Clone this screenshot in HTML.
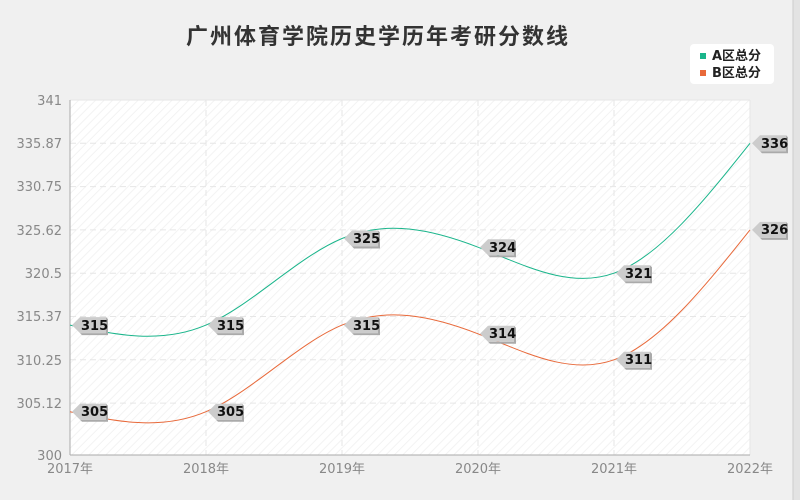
<!DOCTYPE html>
<html><head><meta charset="utf-8"><style>
body{margin:0;background:#f0f0f0;}
svg{display:block;font-family:"DejaVu Sans","Noto Sans CJK SC",sans-serif;}
</style></head><body>
<svg width="800" height="500" xmlns="http://www.w3.org/2000/svg">
<defs>
<pattern id="h" width="6" height="6" patternUnits="userSpaceOnUse" patternTransform="rotate(45)">
<rect width="6" height="6" fill="#fff"/><line x1="0" y1="0" x2="0" y2="6" stroke="#f3f3f3" stroke-width="2"/>
</pattern>
<g id="tag"><path d="M34,-8 L36,-6 L36,10 L10,10 L8,8 L34,8Z" fill="#aaa"/><path d="M0,0 L8,-8 L34,-8 L34,8 L8,8 Z" fill="#cccccc"/></g>
</defs>
<rect x="0" y="0" width="800" height="500" fill="#f0f0f0"/>
<rect x="793" y="0" width="7" height="500" fill="#e3e3e3"/>
<line x1="793" y1="0" x2="793" y2="500" stroke="#ccc"/>
<text x="378" y="44" text-anchor="middle" font-size="22" letter-spacing="2" font-weight="bold" fill="#333">广州体育学院历史学历年考研分数线</text>
<rect x="690" y="44" width="84" height="40" rx="4" fill="#fff"/>
<rect x="700" y="53" width="6" height="6" fill="#1ab58b"/>
<text x="712" y="60" font-size="13" font-weight="bold" fill="#222">A区总分</text>
<rect x="700" y="70" width="6" height="6" fill="#e8693a"/>
<text x="712" y="77" font-size="13" font-weight="bold" fill="#222">B区总分</text>
<rect x="70" y="100" width="680" height="355" fill="url(#h)"/>
<g stroke="#e6e6e6" stroke-dasharray="6,4" stroke-width="1">
<line x1="70" y1="143.3" x2="750" y2="143.3"/><line x1="70" y1="186.6" x2="750" y2="186.6"/>
<line x1="70" y1="229.9" x2="750" y2="229.9"/><line x1="70" y1="273.2" x2="750" y2="273.2"/>
<line x1="70" y1="316.5" x2="750" y2="316.5"/><line x1="70" y1="359.8" x2="750" y2="359.8"/>
<line x1="70" y1="403.1" x2="750" y2="403.1"/>
<line x1="206" y1="100" x2="206" y2="455"/><line x1="342" y1="100" x2="342" y2="455"/>
<line x1="478" y1="100" x2="478" y2="455"/><line x1="614" y1="100" x2="614" y2="455"/>
</g>
<line x1="70" y1="100" x2="750" y2="100" stroke="#e6e6e6"/>
<line x1="750" y1="100" x2="750" y2="455" stroke="#e6e6e6"/>
<line x1="70" y1="100" x2="70" y2="455" stroke="#aaa"/>
<line x1="70" y1="455" x2="750" y2="455" stroke="#aaa"/>
<g font-size="13" fill="#888" text-anchor="end">
<text x="62" y="105">341</text><text x="62" y="148">335.87</text><text x="62" y="191">330.75</text>
<text x="62" y="235">325.62</text><text x="62" y="278">320.5</text><text x="62" y="321">315.37</text>
<text x="62" y="365">310.25</text><text x="62" y="408">305.12</text><text x="62" y="460">300</text>
</g>
<g font-size="13" fill="#888" text-anchor="middle">
<text x="70" y="473">2017年</text><text x="206" y="473">2018年</text><text x="342" y="473">2019年</text>
<text x="478" y="473">2020年</text><text x="614" y="473">2021年</text><text x="750" y="473">2022年</text>
</g>
<path d="M70,325.1 C115.33,334.75 160.67,344.41 206,325.1 C251.33,305.79 296.67,257.52 342,238.5 C387.33,219.48 432.67,229.76 478,247.2 C523.33,264.64 568.67,289.32 614,273.2 C659.33,257.08 704.67,200.18 750,143.3" fill="none" stroke="#1ab58b" stroke-width="1"/>
<g transform="translate(0,86.6)"><path d="M70,325.1 C115.33,334.75 160.67,344.41 206,325.1 C251.33,305.79 296.67,257.52 342,238.5 C387.33,219.48 432.67,229.76 478,247.2 C523.33,264.64 568.67,289.32 614,273.2 C659.33,257.08 704.67,200.18 750,143.3" fill="none" stroke="#e8693a" stroke-width="1"/></g>
<g font-size="13" font-weight="bold" fill="#111">
<use href="#tag" x="72" y="325.1"/><text x="81" y="330">315</text>
<use href="#tag" x="208" y="325.1"/><text x="217" y="330">315</text>
<use href="#tag" x="344" y="238.5"/><text x="353" y="243">325</text>
<use href="#tag" x="480" y="247.2"/><text x="489" y="252">324</text>
<use href="#tag" x="616" y="273.2"/><text x="625" y="278">321</text>
<use href="#tag" x="752" y="143.3"/><text x="761" y="148">336</text>
<use href="#tag" x="72" y="411.7"/><text x="81" y="416">305</text>
<use href="#tag" x="208" y="411.7"/><text x="217" y="416">305</text>
<use href="#tag" x="344" y="325.1"/><text x="353" y="330">315</text>
<use href="#tag" x="480" y="333.8"/><text x="489" y="338">314</text>
<use href="#tag" x="616" y="359.8"/><text x="625" y="364">311</text>
<use href="#tag" x="752" y="229.9"/><text x="761" y="234">326</text>
</g>
</svg>
</body></html>
